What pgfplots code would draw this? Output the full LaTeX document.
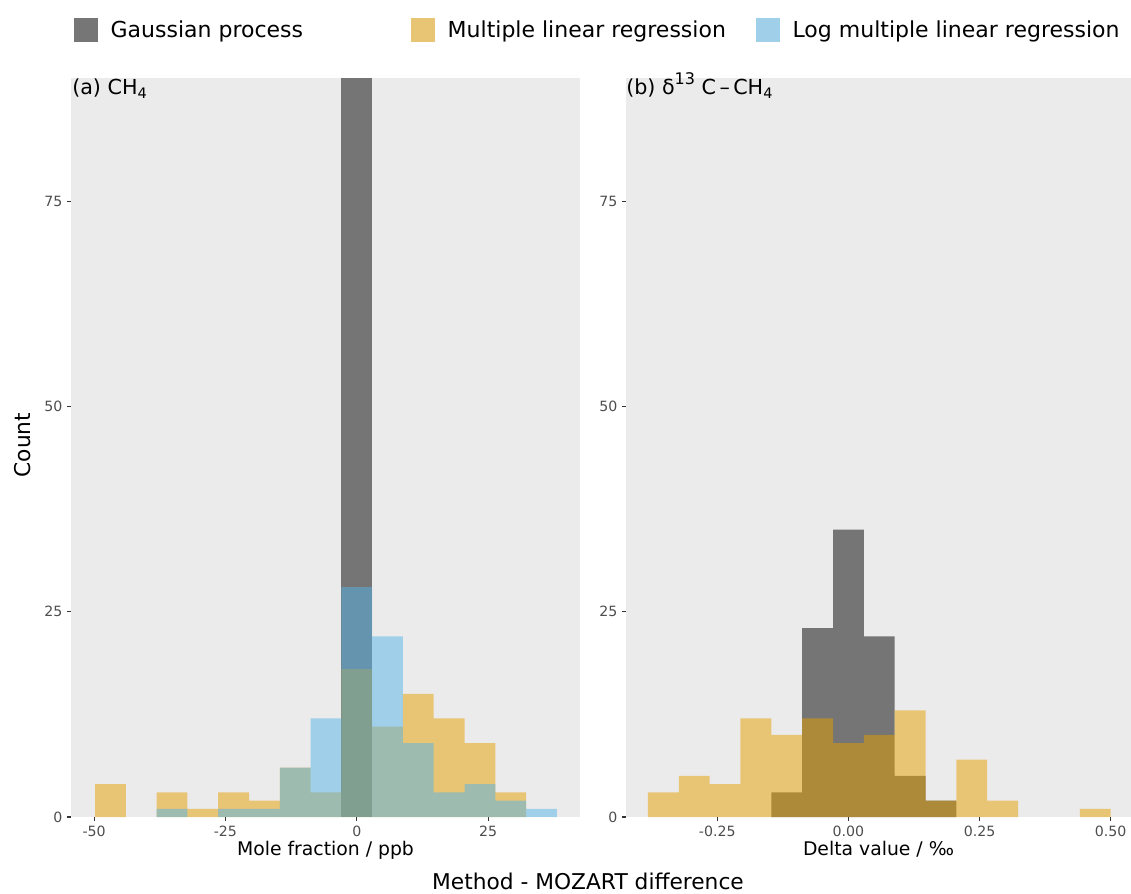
\documentclass[border=0pt]{standalone}
\usepackage{pgfplots}
\pgfplotsset{compat=1.18}
\usepackage{fontspec}
\setmainfont{DejaVu Sans}

\definecolor{panelbg}{HTML}{EBEBEB}
\definecolor{mlrfill}{HTML}{E69F00}
\definecolor{lmlrfill}{HTML}{56B4E9}
\definecolor{gpkey}{HTML}{767676}
\definecolor{mlrkey}{HTML}{E8C575}
\definecolor{lmlrkey}{HTML}{A0CFEA}
\definecolor{ticktext}{HTML}{4D4D4D}
\definecolor{tickline}{HTML}{333333}

\pgfplotsset{
  histpanel/.style={
    scale only axis,
    height=554.25pt,
    ymin=0, ymax=90,
    axis background/.style={fill=panelbg},
    axis line style={draw=none},
    tick align=outside,
    major tick length=3pt,
    tick style={color=tickline, line width=0.8pt},
    tick pos=left,
    ytick={0,25,50,75},
    yticklabels={0,25,50,75},
    ticklabel style={font=\fontsize{10.6}{12}\selectfont, text=ticktext},
    /pgf/number format/assume math mode=true,
    xlabel style={font=\fontsize{14.1}{16}\selectfont, at={(rel axis cs:0.5,0)}, anchor=base, yshift=-28.5pt},
    enlargelimits=false,
    clip mode=individual,
  },
  gp/.style={ybar, bar shift=0pt, fill=black, fill opacity=0.5, draw=none, forget plot},
  mlr/.style={ybar, bar shift=0pt, fill=mlrfill, fill opacity=0.5, draw=none, forget plot},
  lmlr/.style={ybar, bar shift=0pt, fill=lmlrfill, fill opacity=0.5, draw=none, forget plot},
}

\begin{document}
\begin{tikzpicture}
\path[use as bounding box] (0,0) rectangle (848.25pt,669.75pt);

% (a) CH4 mole fraction differences, bin width 5.86 ppb
\begin{axis}[histpanel,
  at={(53.25pt,57pt)}, anchor=south west,
  width=381.75pt,
  xmin=-54.4, xmax=42.5,
  xtick={-50,-25,0,25},
  xticklabels={-50,-25,0,25},
  xlabel={Mole fraction / ppb},
  legend columns=3,
  legend cell align=left,
  legend image code/.code={\fill[#1] (0pt,-9pt) rectangle (18pt,9pt);},
  legend style={at={(rel axis cs:0,1)}, anchor=west, xshift=2.25pt, yshift=36pt,
    draw=none, fill=none, inner sep=0pt,
    font=\fontsize{16.5}{19}\selectfont,
    /tikz/every odd column/.append style={column sep=7.25pt},
    /tikz/column 2/.style={column sep=79.25pt},
    /tikz/column 4/.style={column sep=20.75pt}},
]
\addplot[gp, bar width=5.86] coordinates {(0,90)};
\addplot[mlr, bar width=5.86] coordinates {
  (-46.88,4) (-35.16,3) (-29.30,1) (-23.44,3) (-17.58,2) (-11.72,6) (-5.86,3)
  (0,18) (5.86,11) (11.72,15) (17.58,12) (23.44,9) (29.30,3)};
\addplot[lmlr, bar width=5.86] coordinates {
  (-35.16,1) (-23.44,1) (-17.58,1) (-11.72,6) (-5.86,12)
  (0,28) (5.86,22) (11.72,9) (17.58,3) (23.44,4) (29.30,2) (35.16,1)};
\addlegendimage{fill=gpkey, draw=none}
\addlegendentry{Gaussian process}
\addlegendimage{fill=mlrkey, draw=none}
\addlegendentry{Multiple linear regression}
\addlegendimage{fill=lmlrkey, draw=none}
\addlegendentry{Log multiple linear regression}
\node[anchor=base west, inner sep=0pt, font=\fontsize{15.5}{18}\selectfont]
  at (rel axis cs:0,1) [xshift=0.75pt, yshift=-12.75pt] {(a) CH\textsubscript{4}};
\end{axis}

% (b) delta 13C-CH4 differences, bin width 0.0588 permil
\begin{axis}[histpanel,
  at={(469.5pt,57pt)}, anchor=south west,
  width=378.75pt,
  xmin=-0.424, xmax=0.5387,
  xtick={-0.25,0,0.25,0.5},
  xticklabels={-0.25,0.00,0.25,0.50},
  xlabel={Delta value / ‰},
]
\addplot[gp, bar width=0.0588] coordinates {
  (-0.1176,3) (-0.0588,23) (0,35) (0.0588,22) (0.1176,5) (0.1764,2)};
\addplot[mlr, bar width=0.0588] coordinates {
  (-0.3528,3) (-0.2940,5) (-0.2352,4) (-0.1764,12) (-0.1176,10) (-0.0588,12)
  (0,9) (0.0588,10) (0.1176,13) (0.1764,2) (0.2352,7) (0.2940,2) (0.4704,1)};
\node[anchor=base west, inner sep=0pt, font=\fontsize{15.5}{18}\selectfont]
  at (rel axis cs:0,1) [xshift=0pt, yshift=-12.75pt]
  {(b) δ\raisebox{0.5em}{\fontsize{12}{14}\selectfont 13} C\,–\,CH\textsubscript{4}};
\end{axis}

% shared axis titles
\node[rotate=90, anchor=base, font=\fontsize{16.3}{19}\selectfont] at (22.5pt,336pt) {Count};
\node[anchor=base, font=\fontsize{16.3}{19}\selectfont] at (441pt,2.5pt) {Method - MOZART difference};
\end{tikzpicture}
\end{document}
